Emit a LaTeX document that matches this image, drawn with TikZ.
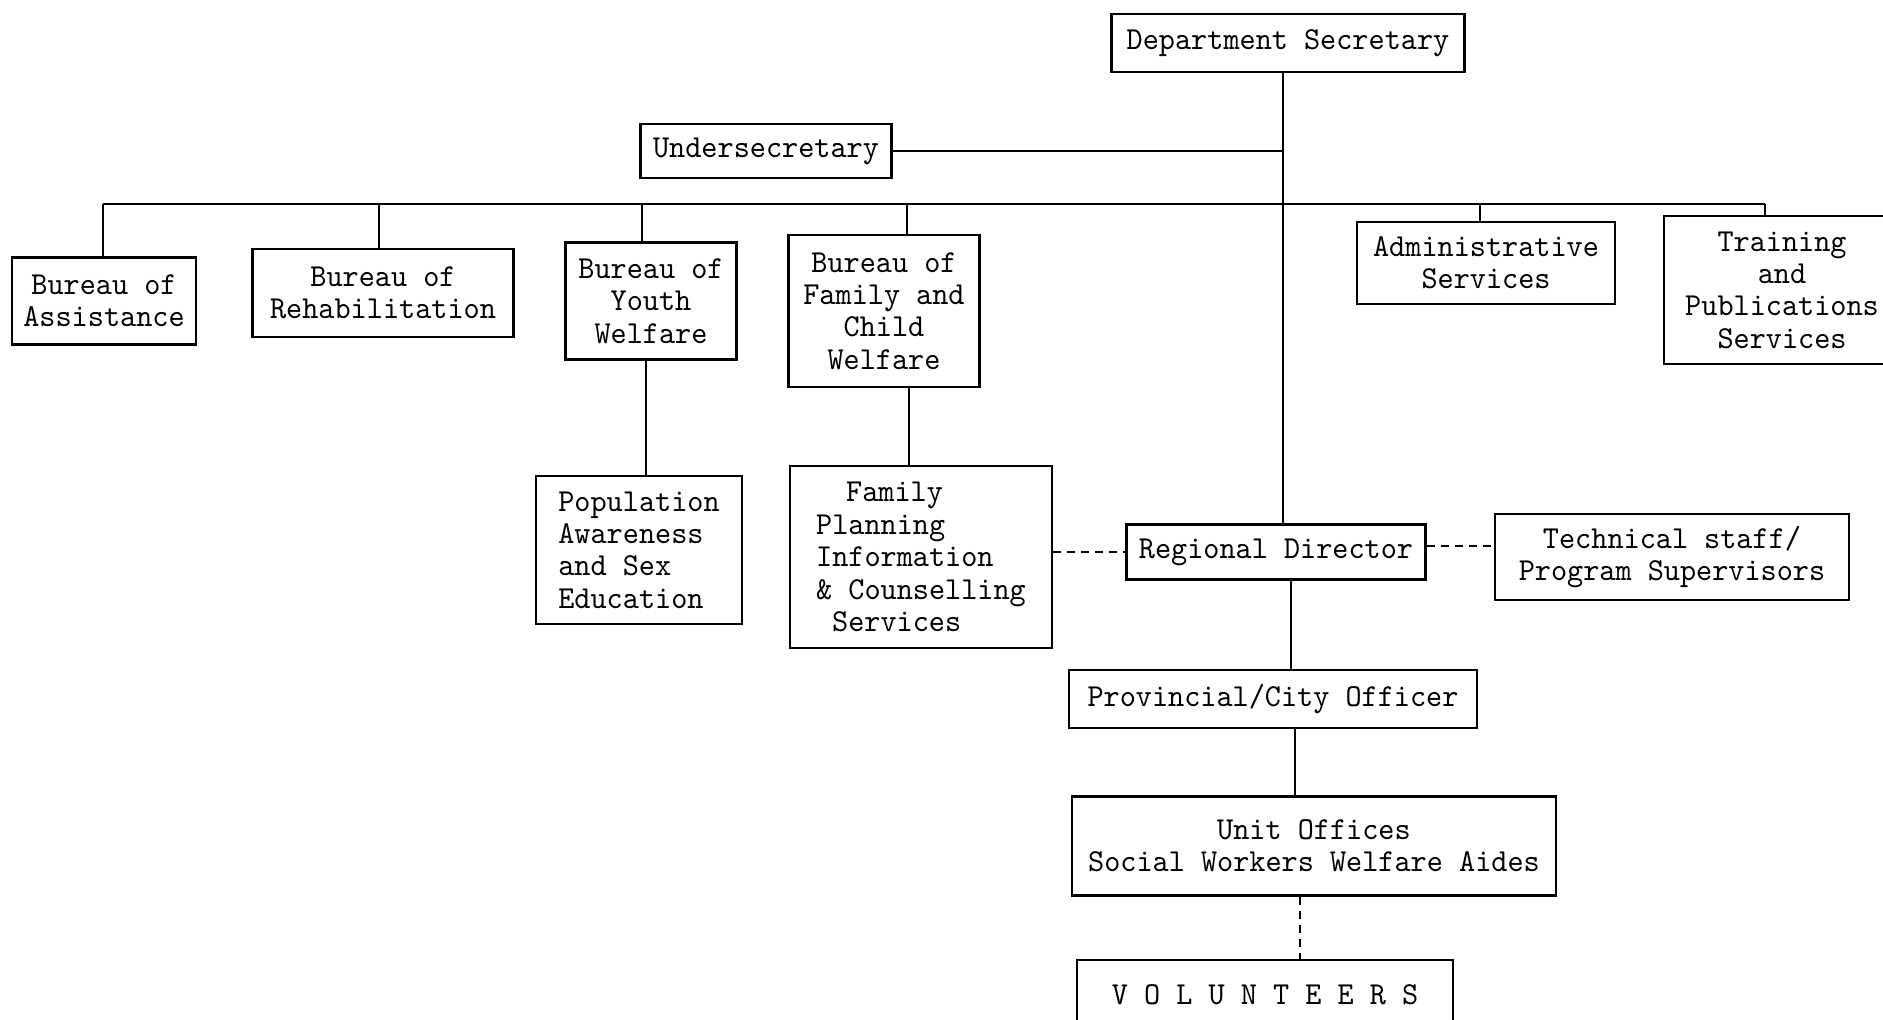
\documentclass[tikz,border=0pt]{standalone}
\usepackage{fontspec}
\newfontfamily\twfont[Extension=.otf, FakeStretch=0.96]{lmmono10-regular}
\tikzset{
  box/.style={draw, line width=2.2pt, rectangle, inner sep=0pt,
    font=\twfont\fontsize{32}{32.4}\selectfont, align=center},
  link/.style={line width=2.2pt},
  dlink/.style={line width=2.2pt, dash pattern=on 8pt off 6pt}
}
\begin{document}
\begin{tikzpicture}[x=1pt,y=-1pt]
\useasboundingbox (0,0) rectangle (1883,1020);
\fill[white] (0,0) rectangle (1883,1020);
\clip (0,0) rectangle (1883,1020);
% nodes
\node[box, minimum width=353pt, minimum height=58pt] (ds) at (1288,43) {Department Secretary};
\node[box, minimum width=251pt, minimum height=54pt] (us) at (766,151) {Undersecretary};
\node[box, minimum width=184pt, minimum height=87pt] (ba) at (104,301) {Bureau of\\Assistance};
\node[box, minimum width=261pt, minimum height=88pt] (br) at (383,293) {Bureau of\\Rehabilitation};
\node[box, minimum width=171pt, minimum height=117pt] (byw) at (651,301) {Bureau of\\Youth\\Welfare};
\node[box, minimum width=191pt, minimum height=152pt] (bfcw) at (884,311) {Bureau of\\Family and\\Child\\Welfare};
\node[box, minimum width=258pt, minimum height=82pt] (as) at (1486,263) {Administrative\\Services};
\node[box, minimum width=236pt, minimum height=148pt] (tps) at (1782,290) {Training\\and\\Publications\\Services};
\node[box, minimum width=206pt, minimum height=148pt, align=left] (pase) at (639,550) {Population\\Awareness\\and Sex\\Education};
\node[box, minimum width=262pt, minimum height=182pt, align=left] (fpic) at (921,557) {\hspace*{30pt}Family\\Planning\\Information\\\& Counselling\\\hspace*{16pt}Services};
\node[box, minimum width=299pt, minimum height=55pt] (rd) at (1276,552) {Regional Director};
\node[box, minimum width=354pt, minimum height=86pt] (tech) at (1672,557) {Technical staff/\\Program Supervisors};
\node[box, minimum width=408pt, minimum height=58pt] (pco) at (1273,699) {Provincial/City Officer};
\node[box, minimum width=484pt, minimum height=99pt] (uo) at (1314,846) {Unit Offices\\Social Workers Welfare Aides};
\node[box, minimum width=376pt, minimum height=70pt] (vol) at (1265,995) {V O L U N T E E R S};
% connectors
\coordinate (trunk) at (1283,0);
\coordinate (busL) at (103,204);
\coordinate (busR) at (1765,204);
\draw[link] (ds.south -| trunk) -- (rd.north -| trunk);
\draw[link] (us.east) -- (us.east -| trunk);
\draw[link] (busL) -- (busR);
\draw[link] (busL) -- (busL |- ba.north);
\draw[link] ([xshift=-4pt]br.north) -- ([xshift=-4pt]br.north |- busL);
\draw[link] ([xshift=-9pt]byw.north) -- ([xshift=-9pt]byw.north |- busL);
\draw[link] ([xshift=23pt]bfcw.north) -- ([xshift=23pt]bfcw.north |- busL);
\draw[link] ([xshift=-6pt]as.north) -- ([xshift=-6pt]as.north |- busL);
\draw[link] (busR) -- (busR |- tps.north);
\draw[link] ([xshift=-5pt]byw.south) -- ([xshift=-5pt]byw.south |- pase.north);
\draw[link] ([xshift=25pt]bfcw.south) -- ([xshift=25pt]bfcw.south |- fpic.north);
\draw[dlink] (fpic.east |- rd.west) -- (rd.west);
\draw[dlink] ([yshift=6pt]rd.east) -- ([yshift=6pt]rd.east -| tech.west);
\draw[link] ([xshift=15pt]rd.south) -- ([xshift=15pt]rd.south |- pco.north);
\draw[link] ([xshift=22pt]pco.south) -- ([xshift=22pt]pco.south |- uo.north);
\draw[dlink] ([xshift=-14pt]uo.south) -- ([xshift=-14pt]uo.south |- vol.north);
\end{tikzpicture}
\end{document}
